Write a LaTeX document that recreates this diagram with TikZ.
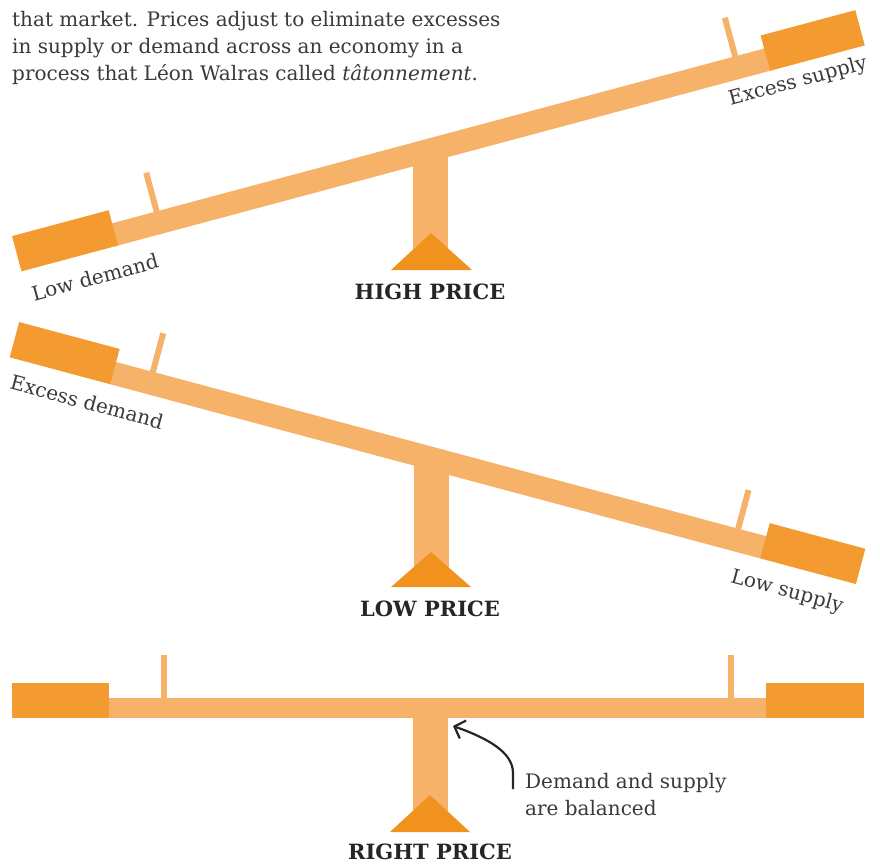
\documentclass[tikz,border=0pt]{standalone}
\usepackage{fontspec}
\setmainfont{DejaVu Serif}
\usetikzlibrary{arrows.meta}
\definecolor{beamc}{HTML}{F7B26A}
\definecolor{boxc}{HTML}{F39A30}
\definecolor{tric}{HTML}{F1921F}
\definecolor{txt}{HTML}{3A3A3A}
\tikzset{
  beam/.style={fill=beamc, draw=none},
  weight/.style={fill=boxc, draw=none},
  peg/.style={fill=beamc, draw=none},
  fulcrum/.style={fill=tric, draw=none},
  body/.style={text=txt, font=\fontsize{20}{27}\selectfont, inner sep=0pt, align=left},
  lbl/.style={text=txt, font=\fontsize{20}{24}\selectfont, inner sep=0pt},
  ttl/.style={text=black!85, font=\bfseries\fontsize{21}{24}\selectfont, inner sep=0pt},
  callout/.style={draw=black!85, line width=2.2pt, -{Straight Barb[length=9pt,width=19pt]}},
}
\begin{document}
\begin{tikzpicture}[x=1pt,y=1pt]
\useasboundingbox (0,0) rectangle (880,-864);
\fill[white] (0,0) rectangle (880,-864);

% intro text
\node[body, anchor=north west] (intro) at (12,-11)
  {that market. Prices adjust to eliminate excesses\\
   in supply or demand across an economy in a\\
   process that L\'eon Walras called \textit{t\^atonnement}.};

% ---------- seesaw 1: high price ----------
\fill[beam] (413,-150) rectangle (448,-262);
\fill[fulcrum] (431,-233) -- (472,-270) -- (391,-270) -- cycle;
\begin{scope}[shift={(430,-150)}, rotate=15]
  \fill[beam] (-330,-11.5) rectangle (352,11.5);
  \fill[weight] (-426,-11.5) rectangle (-326,25);
  \fill[weight] (349,-11.5) rectangle (447,25);
  \fill[peg] (-283,10) rectangle (-277,51.5);
  \fill[peg] (316,10) rectangle (322,51.5);
\end{scope}
\node[lbl, rotate=15] (lowdem) at (95,-277) {Low demand};
\node[lbl, rotate=15] (excsup) at (798,-82) {Excess supply};
\node[ttl] (high) at (430,-292) {HIGH PRICE};

% ---------- seesaw 2: low price ----------
\fill[beam] (414,-458) rectangle (449,-580);
\fill[fulcrum] (431,-552) -- (471,-587) -- (391,-587) -- cycle;
\begin{scope}[shift={(430,-458)}, rotate=-15]
  \fill[beam] (-330,-11.5) rectangle (348,11.5);
  \fill[weight] (-432,-11.5) rectangle (-328,25);
  \fill[weight] (345,-11.5) rectangle (444,25);
  \fill[peg] (-293,10) rectangle (-287,51.5);
  \fill[peg] (313,10) rectangle (319,51.5);
\end{scope}
\node[lbl, rotate=-15] (excdem) at (87,-402) {Excess demand};
\node[lbl, rotate=-15] (lowsup) at (787,-592) {Low supply};
\node[ttl] (low) at (430,-609) {LOW PRICE};

% ---------- seesaw 3: right price ----------
\fill[beam] (413,-708) rectangle (448,-825);
\fill[fulcrum] (430,-795) -- (470,-832) -- (390,-832) -- cycle;
\fill[beam] (105,-698) rectangle (770,-718);
\fill[weight] (12,-683) rectangle (109,-718);
\fill[weight] (766,-683) rectangle (864,-718);
\fill[peg] (161,-655) rectangle (167,-699);
\fill[peg] (728,-655) rectangle (734,-699);
\node[ttl] (right) at (430,-852) {RIGHT PRICE};

% callout
\node[body, anchor=north west] (bal) at (525,-773) {Demand and supply\\are balanced};
\coordinate (arrS) at (513,-789);
\coordinate (arrE) at (453,-726);
\draw[callout] (arrS) -- ++(0,16) .. controls (513,-752) and (487,-738) .. (arrE);
\end{tikzpicture}
\end{document}
